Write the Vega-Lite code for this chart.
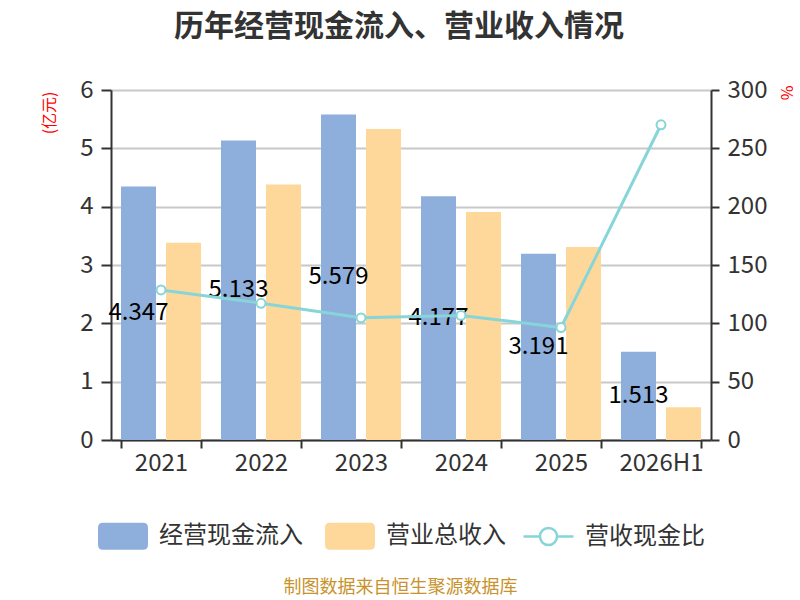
{
  "$schema": "https://vega.github.io/schema/vega-lite/v6.json",
  "width": 600,
  "height": 350,
  "autosize": {"type": "none"},
  "padding": {"left": 111, "top": 90, "right": 89, "bottom": 160},
  "background": "white",
  "title": {
    "text": "历年经营现金流入、营业收入情况",
    "font": "Noto Sans CJK SC",
    "fontSize": 30,
    "fontWeight": "bold",
    "color": "#333333",
    "anchor": "middle",
    "frame": "group",
    "dx": -12,
    "offset": 36
  },
  "data": {
    "values": [
      {"year": "2021", "经营现金流入": 4.347, "营业总收入": 3.38, "ratio": 128.6},
      {"year": "2022", "经营现金流入": 5.133, "营业总收入": 4.38, "ratio": 117.2},
      {"year": "2023", "经营现金流入": 5.579, "营业总收入": 5.33, "ratio": 104.7},
      {"year": "2024", "经营现金流入": 4.177, "营业总收入": 3.91, "ratio": 106.8},
      {"year": "2025", "经营现金流入": 3.191, "营业总收入": 3.31, "ratio": 96.4},
      {"year": "2026H1", "经营现金流入": 1.513, "营业总收入": 0.56, "ratio": 270.2}
    ]
  },
  "encoding": {
    "x": {
      "field": "year",
      "type": "nominal",
      "sort": null,
      "scale": {"paddingInner": 0.2, "paddingOuter": 0.1},
      "axis": {
        "title": "制图数据来自恒生聚源数据库",
        "titleColor": "#c8922c",
        "titleFontSize": 18,
        "titleFontWeight": "normal",
        "titleAlign": "center",
        "titleBaseline": "top",
        "titleX": 289,
        "titleY": 138,
        "labelAngle": 0,
        "tickBand": "extent",
        "domainColor": "#333333",
        "domainWidth": 2,
        "tickColor": "#333333",
        "tickWidth": 2,
        "tickSize": 8,
        "labelFontSize": 24,
        "labelColor": "#333333",
        "labelPadding": 3,
        "grid": false
      }
    }
  },
  "layer": [
    {
      "transform": [{"fold": ["经营现金流入", "营业总收入"], "as": ["series", "value"]}],
      "mark": {"type": "bar"},
      "encoding": {
        "y": {
          "field": "value",
          "type": "quantitative",
          "scale": {"domain": [0, 6]},
          "axis": {
            "orient": "left",
            "title": "(亿元)",
            "titleColor": "#ff0000",
            "titleFontSize": 16,
            "titleFontWeight": "normal",
            "titleAngle": -90,
            "titleAlign": "right",
            "titleBaseline": "bottom",
            "titleX": -54,
            "titleY": 1,
            "values": [0, 1, 2, 3, 4, 5, 6],
            "grid": true,
            "gridColor": "#c8c8c8",
            "gridWidth": 2,
            "domainColor": "#333333",
            "domainWidth": 2,
            "tickColor": "#333333",
            "tickWidth": 2,
            "tickSize": 10,
            "labelFontSize": 24,
            "labelColor": "#333333",
            "labelPadding": 8
          }
        },
        "xOffset": {
          "field": "series",
          "type": "nominal",
          "scale": {"domain": ["经营现金流入", "营业总收入"], "paddingInner": 0.222, "paddingOuter": 0}
        },
        "color": {
          "field": "series",
          "type": "nominal",
          "scale": {
            "domain": ["经营现金流入", "营业总收入"],
            "range": ["#8eaedb", "#fed89b"]
          },
          "legend": {
            "orient": "none",
            "legendX": -14,
            "legendY": 420,
            "direction": "horizontal",
            "padding": 0,
            "title": null,
            "labelFontSize": 24,
            "labelColor": "#333333",
            "labelOffset": 10,
            "columnPadding": 21,
            "symbolSize": 2500,
            "symbolType": "M-0.8,-0.54H0.8Q1,-0.54 1,-0.34V0.34Q1,0.54 0.8,0.54H-0.8Q-1,0.54 -1,0.34V-0.34Q-1,-0.54 -0.8,-0.54Z"
          }
        }
      }
    },
    {
      "mark": {"type": "text", "fontSize": 24, "color": "#000000", "baseline": "middle", "align": "center"},
      "encoding": {
        "xOffset": {"datum": "经营现金流入"},
        "y": {"field": "经营现金流入", "type": "quantitative", "scale": {"domain": [0, 12]}, "axis": null},
        "text": {"field": "经营现金流入", "type": "quantitative", "format": ".3f"}
      }
    },
    {
      "mark": {
        "type": "line",
        "strokeWidth": 3,
        "point": {"filled": false, "fill": "#ffffff", "size": 80, "strokeWidth": 2}
      },
      "encoding": {
        "y": {
          "field": "ratio",
          "type": "quantitative",
          "scale": {"domain": [0, 300]},
          "axis": {
            "orient": "right",
            "title": "%",
            "titleColor": "#ff0000",
            "titleFontSize": 16,
            "titleFontWeight": "normal",
            "titleAngle": 90,
            "titleAlign": "left",
            "titleBaseline": "bottom",
            "titleX": 66,
            "titleY": -5,
            "values": [0, 50, 100, 150, 200, 250, 300],
            "grid": false,
            "domainColor": "#333333",
            "domainWidth": 2,
            "tickColor": "#333333",
            "tickWidth": 2,
            "tickSize": 8,
            "labelFontSize": 24,
            "labelColor": "#333333",
            "labelPadding": 8
          }
        },
        "stroke": {
          "datum": "营收现金比",
          "scale": {"domain": ["营收现金比"], "range": ["#87d5d8"]},
          "legend": {
            "orient": "none",
            "legendX": 411,
            "legendY": 420,
            "padding": 0,
            "title": null,
            "labelFontSize": 24,
            "labelColor": "#333333",
            "labelOffset": 10,
            "symbolSize": 2500,
            "symbolStrokeWidth": 2.5,
            "symbolFillColor": "#ffffff",
            "symbolType": "M-1,0H-0.34M0.34,0H1M0.34,0A0.34,0.34 0 1,1 -0.34,0A0.34,0.34 0 1,1 0.34,0Z"
          }
        }
      }
    }
  ],
  "resolve": {"scale": {"y": "independent"}},
  "config": {
    "font": "Noto Sans CJK SC",
    "view": {"stroke": null}
  }
}
